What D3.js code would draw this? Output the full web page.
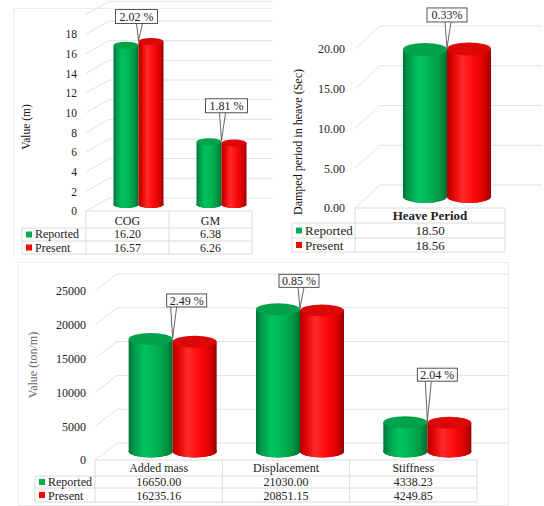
<!DOCTYPE html>
<html><head><meta charset="utf-8">
<script src="https://cdn.jsdelivr.net/npm/d3@7"></script>
<style>html,body{margin:0;padding:0;background:#fff}svg{display:block}
text{font-family:"Liberation Serif","DejaVu Serif","Times New Roman",serif}</style>
</head><body>
<svg id="chart" width="544" height="506"></svg>
<script>
// ---- data ----
const catsA = ["COG", "GM"];
const reportedA = [16.20, 6.38];
const presentA = [16.57, 6.26];
const diffA = ["2.02 %", "1.81 %"];
const ticksA = [0, 2, 4, 6, 8, 10, 12, 14, 16, 18];
const gridA = [0, 2, 4, 6, 8, 10, 12, 14, 16, 18, 20];

const catsB = ["Heave Period"];
const reportedB = [18.50];
const presentB = [18.56];
const diffB = ["0.33%"];
const ticksB = [0, 5, 10, 15, 20];

const catsC = ["Added mass", "Displacement", "Stiffness"];
const reportedC = [16650.00, 21030.00, 4338.23];
const presentC = [16235.16, 20851.15, 4249.85];
const diffC = ["2.49 %", "0.85 %", "2.04 %"];
const ticksC = [0, 5000, 10000, 15000, 20000, 25000];

const seriesNames = ["Reported", "Present"];
const seriesColors = ["#00b050", "#ff0000"];

// ---- drawing ----
const svg = d3.select("#chart");
const FONT = "'Liberation Serif','DejaVu Serif',serif";
const defs = svg.append("defs");
function grad(id, stops) {
  const g = defs.append("linearGradient").attr("id", id).attr("x1", "0").attr("x2", "1").attr("y1", "0").attr("y2", "0");
  stops.forEach(s => g.append("stop").attr("offset", s[0]).attr("stop-color", s[1]));
}
grad("gGreen", [[0, "#00733a"], [0.12, "#009a48"], [0.35, "#00c262"], [0.6, "#00b452"], [0.85, "#009644"], [1, "#006a32"]]);
grad("gRed", [[0, "#a80000"], [0.12, "#e00000"], [0.35, "#ff2a2a"], [0.6, "#ff0a0a"], [0.85, "#d80000"], [1, "#980000"]]);
const bodyFill = ["url(#gGreen)", "url(#gRed)"];
const topFill = ["#00a24c", "#dc0808"];
const bottomFill = ["#007a3a", "#b40000"];

// frames
svg.append("path").attr("d", "M13.5,257V8.5H272").attr("fill", "none").attr("stroke", "#ececec");
svg.append("rect").attr("x", 18.5).attr("y", 262.5).attr("width", 490).attr("height", 243)
  .attr("fill", "none").attr("stroke", "#ececec");

function panel(cfg) {
  const g = svg.append("g");
  const y = d3.scaleLinear().domain(cfg.domain).range(cfg.range);
  const x = d3.scaleBand().domain(cfg.cats).range([cfg.x0, cfg.x1]).padding(0);
  const gridCol = "#e2e2e2";
  cfg.grid.forEach(v => {
    const yy = y(v);
    g.append("path")
      .attr("d", `M${cfg.x0},${yy}L${cfg.x0 + cfg.dx},${yy + cfg.dy}L${cfg.gridEnd},${yy + cfg.dy}`)
      .attr("fill", "none").attr("stroke", gridCol).attr("stroke-width", 1);
  });
  const axis = d3.axisLeft(y).tickValues(cfg.ticks).tickFormat(cfg.fmt).tickSize(0).tickPadding(0);
  const ax = g.append("g").attr("transform", `translate(${cfg.tickX},0)`).call(axis);
  ax.select(".domain").remove();
  ax.selectAll("text").attr("font-family", FONT).attr("font-size", cfg.tickFont).attr("fill", "#222");
  g.append("text").attr("transform", `translate(${cfg.titleX},${cfg.titleY}) rotate(-90)`)
    .attr("text-anchor", "middle").attr("font-family", FONT).attr("font-size", cfg.titleFont)
    .attr("fill", cfg.titleColor).text(cfg.title);

  const ymid = v => y(v) + cfg.dy / 2;
  const w = cfg.barW, ry = cfg.ry;
  cfg.cats.forEach((c, i) => {
    const cx = x(c) + x.bandwidth() / 2 + cfg.shift;
    [cfg.rep[i], cfg.pre[i]].forEach((v, s) => {
      const left = s === 0 ? cx - w : cx;
      const yt = ymid(v), yb = ymid(0);
      const bg = g.append("g");
      bg.append("ellipse").attr("cx", left + w / 2).attr("cy", yb).attr("rx", w / 2).attr("ry", ry).attr("fill", bottomFill[s]);
      bg.append("rect").attr("x", left).attr("y", yt).attr("width", w).attr("height", yb - yt).attr("fill", bodyFill[s]);
      bg.append("ellipse").attr("cx", left + w / 2).attr("cy", yb).attr("rx", w / 2).attr("ry", ry).attr("fill", bodyFill[s]);
      bg.append("ellipse").attr("cx", left + w / 2).attr("cy", yt).attr("rx", w / 2).attr("ry", ry).attr("fill", topFill[s]);
    });
    const jx = cx, jy = ymid(Math.max(cfg.rep[i], cfg.pre[i])) - 1;
    const bw = cfg.boxW, bh = cfg.boxH;
    const bcx = cx + cfg.boxDx[i];
    const bb = jy - cfg.lift[i];
    const lg = g.append("g");
    lg.append("path")
      .attr("d", `M${jx - 2},${bb}L${jx},${jy}L${jx + 4},${bb}`)
      .attr("fill", "#fff").attr("stroke", "#404040").attr("stroke-width", 0.8);
    lg.append("rect").attr("x", bcx - bw / 2).attr("y", bb - bh).attr("width", bw).attr("height", bh)
      .attr("fill", "#fff").attr("stroke", "#404040").attr("stroke-width", 0.9);
    lg.append("text").attr("x", bcx).attr("y", bb - bh / 2).attr("dy", "0.35em").attr("text-anchor", "middle")
      .attr("font-family", FONT).attr("font-size", cfg.boxFont).attr("fill", "#222").text(cfg.diff[i]);
  });

  const tb = cfg.table; // [top, headerBottom, row1Bottom, row2Bottom]
  const bl = cfg.baselines; // text baselines for header, row1, row2
  const tc = "#dadada";
  const line = (x1, y1, x2, y2) => g.append("line").attr("x1", x1).attr("y1", y1).attr("x2", x2).attr("y2", y2)
    .attr("stroke", tc).attr("stroke-width", 1);
  line(cfg.x0, tb[0], cfg.x1, tb[0]);
  line(cfg.legX, tb[1], cfg.x1, tb[1]);
  line(cfg.legX, tb[2], cfg.x1, tb[2]);
  line(cfg.legX, tb[3], cfg.x1, tb[3]);
  line(cfg.legX, tb[1], cfg.legX, tb[3]);
  x.domain().forEach(c => line(x(c), tb[0], x(c), tb[3]));
  line(cfg.x1, tb[0], cfg.x1, tb[3]);
  const tf = cfg.tableFont;
  cfg.cats.forEach((c, i) => {
    const cx = x(c) + x.bandwidth() / 2;
    g.append("text").attr("x", cx).attr("y", bl[0]).attr("text-anchor", "middle")
      .attr("font-family", FONT).attr("font-size", tf).attr("fill", "#222")
      .attr("font-weight", cfg.headBold ? "bold" : "normal").text(c);
    g.append("text").attr("x", cx).attr("y", bl[1]).attr("text-anchor", "middle")
      .attr("font-family", FONT).attr("font-size", tf).attr("fill", "#222").text(cfg.valFmt(cfg.rep[i]));
    g.append("text").attr("x", cx).attr("y", bl[2]).attr("text-anchor", "middle")
      .attr("font-family", FONT).attr("font-size", tf).attr("fill", "#222").text(cfg.valFmt(cfg.pre[i]));
  });
  seriesNames.forEach((n, s) => {
    const rb = tb[2 + s], rt = tb[1 + s];
    const mid = (rb + rt) / 2;
    g.append("rect").attr("x", cfg.legX + 4).attr("y", mid - 3).attr("width", 6).attr("height", 6).attr("fill", seriesColors[s]);
    g.append("text").attr("x", cfg.legX + 13).attr("y", bl[1 + s]).attr("font-family", FONT)
      .attr("font-size", tf).attr("fill", "#222").text(n);
  });
}

const f2 = d3.format(".2f");
panel({
  cats: catsA, rep: reportedA, pre: presentA, diff: diffA,
  domain: [0, 18], range: [211, 34], ticks: ticksA, grid: gridA, fmt: d3.format("d"),
  x0: 86, x1: 252, dx: 23, dy: -13, gridEnd: 273,
  tickX: 77, tickFont: 11.5, title: "Value (m)", titleX: 30, titleY: 127, titleFont: 11.5, titleColor: "#111",
  barW: 25, shift: 11, ry: 3.5,
  boxW: 42, boxH: 14, boxFont: 12, boxDx: [-2, 5], lift: [17, 28],
  table: [211, 228, 241, 254], baselines: [224.5, 238, 251.5], legX: 22, tableFont: 12, valFmt: f2, headBold: false
});
panel({
  cats: catsB, rep: reportedB, pre: presentB, diff: diffB,
  domain: [0, 20], range: [208, 49], ticks: ticksB, grid: ticksB, fmt: f2,
  x0: 355, x1: 505, dx: 25, dy: -23, gridEnd: 542,
  tickX: 345, tickFont: 12, title: "Damped period in heave (Sec)", titleX: 302, titleY: 142, titleFont: 12, titleColor: "#111",
  barW: 44, shift: 17, ry: 6.5,
  boxW: 40, boxH: 14, boxFont: 12, boxDx: [0], lift: [26],
  table: [208, 223, 238, 252], baselines: [220, 235, 249.5], legX: 292, tableFont: 13, valFmt: f2, headBold: true
});
panel({
  cats: catsC, rep: reportedC, pre: presentC, diff: diffC,
  domain: [0, 25000], range: [460, 291], ticks: ticksC, grid: ticksC, fmt: d3.format("d"),
  x0: 95, x1: 477, dx: 22, dy: -17, gridEnd: 508,
  tickX: 86, tickFont: 12, title: "Value (ton/m)", titleX: 37, titleY: 365, titleFont: 12, titleColor: "#666",
  barW: 44, shift: 14, ry: 6,
  boxW: 40, boxH: 13, boxFont: 12, boxDx: [14, -1, 10], lift: [31, 21, 40],
  table: [460, 476, 488, 502], baselines: [472, 486, 499.5], legX: 35, tableFont: 12, valFmt: f2, headBold: false
});
</script>
</body></html>
